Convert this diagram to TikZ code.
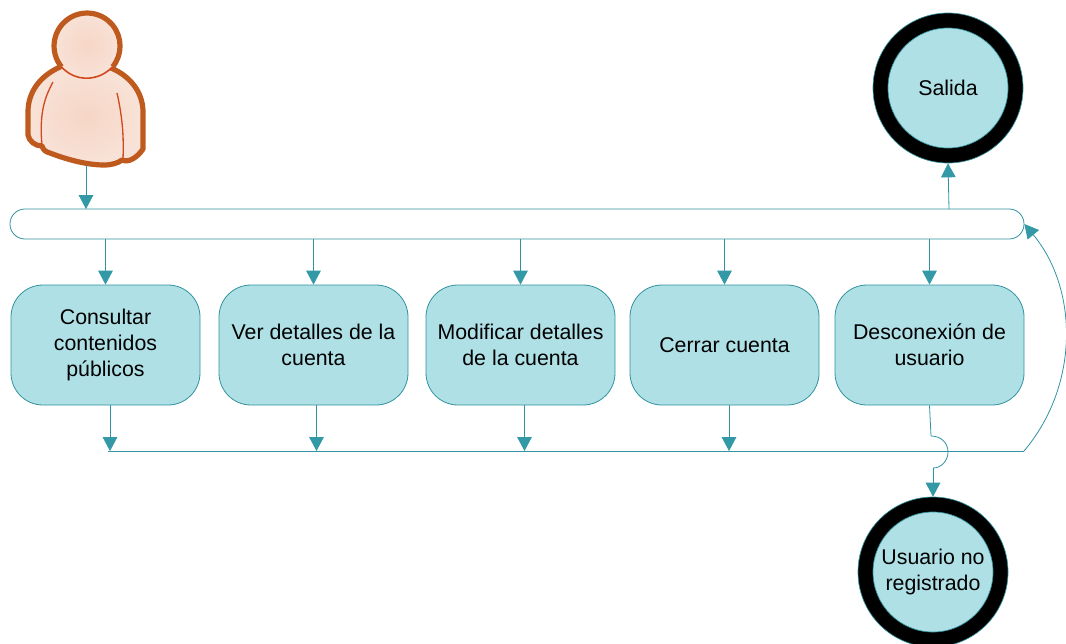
\documentclass[tikz,border=0pt]{standalone}
\usepackage{fontspec}
\setmainfont{Liberation Sans}
\usetikzlibrary{arrows.meta}
\definecolor{tealline}{HTML}{31939F}
\definecolor{tealfill}{HTML}{AEE0E6}
\definecolor{tealhead}{HTML}{3399A6}
\definecolor{skinout}{HTML}{BE5A1E}
\definecolor{skinred}{HTML}{D2491F}
\definecolor{skinin}{HTML}{F6D6C6}
\definecolor{skinedge}{HTML}{F8E2D7}
\tikzset{
  lbl/.style={font=\fontsize{16pt}{19.2pt}\selectfont,align=center,text=black},
  taskbox/.style={lbl,draw=tealline,fill=tealfill,line width=0.6pt,rounded corners=24pt,
    minimum width=141.75pt,minimum height=90pt,inner sep=0pt},
  barbox/.style={draw=tealline,fill=white,line width=0.6pt,rounded corners=11.2pt,
    minimum width=760.5pt,minimum height=22.5pt,inner sep=0pt},
  endout/.style={circle,draw=tealline,fill=black,line width=0.5pt,minimum size=112.5pt,inner sep=0pt},
  endin/.style={lbl,circle,draw=tealline,fill=tealfill,line width=0.5pt,minimum size=90pt,inner sep=0pt},
  conn/.style={draw=tealline,line width=0.6pt},
  arr/.style={conn,-{Triangle[length=10.5pt,width=11pt,color=tealhead]}},
  person/.style={draw=none,inner color=skinin,outer color=skinedge},
}
\begin{document}
\begin{tikzpicture}[x=0.75pt,y=-0.75pt]
\useasboundingbox (0,0) rectangle (1066,643);
% person
\path[person] (60,67) .. controls (40,76) and (28,92) .. (28,112) -- (28,135)
  .. controls (29,141) and (35,146) .. (42,146) .. controls (43,150) and (46,152) .. (50,153)
  .. controls (68,160) and (88,165) .. (104,165) .. controls (112,165) and (118,163) .. (122,160)
  .. controls (128,163) and (137,158) .. (143,149) -- (143,112)
  .. controls (143,92) and (130,76) .. (111,68) -- cycle;
\draw[skinout,line width=3.9pt,line join=round,line cap=round] (60,67) .. controls (40,76) and (28,92) .. (28,112) -- (28,135)
  .. controls (29,141) and (35,146) .. (42,146) .. controls (43,150) and (46,152) .. (50,153)
  .. controls (68,160) and (88,165) .. (104,165) .. controls (112,165) and (118,163) .. (122,160)
  .. controls (128,163) and (137,158) .. (143,149) -- (143,112)
  .. controls (143,92) and (130,76) .. (111,68);
\draw[skinred,line width=1pt] (53,82) .. controls (45,97) and (39,112) .. (42,146);
\draw[skinred,line width=1pt] (117,93) .. controls (122,115) and (124,135) .. (123,159);
\path[person] (87,46) circle[radius=33];
\draw[skinout,line width=3.9pt] (61.4,66.8) arc[start angle=141,end angle=399,radius=33];
\draw[skinred,line width=1.2pt] (61.4,66.8) .. controls (75,82) and (98,82) .. (112.6,66.8);
\coordinate (personfoot) at (86,165);

\node[barbox] (bar) at (517,224) {};
\node[taskbox] (b1) at (105.5,345) {Consultar\\contenidos\\públicos};
\node[taskbox] (b2) at (313.5,345) {Ver detalles de la\\cuenta};
\node[taskbox] (b3) at (520.5,345) {Modificar detalles\\de la cuenta};
\node[taskbox] (b4) at (724.5,345) {Cerrar cuenta};
\node[taskbox] (b5) at (929.5,345) {Desconexión de\\usuario};
\node[endout] (salidao) at (948,88) {};
\node[endin] (salida) at (948,88) {Salida};
\node[endout] (regO) at (933,572) {};
\node[endin] (reg) at (933,572) {Usuario no\\registrado};

\coordinate (barin) at (86,209);
\coordinate (barout) at (949,209);
\coordinate (j0) at (108,451);
\coordinate (j1) at (110,451);
\coordinate (j2) at (316.5,451);
\coordinate (j3) at (524.5,451);
\coordinate (j4) at (729,451);
\coordinate (jend) at (1024,451);
\coordinate (hopa) at (931,436);
\coordinate (hopm) at (948,452);
\coordinate (hopb) at (933,468);

\draw[arr] (personfoot) -- (barin);
\foreach \n in {b1,b2,b3,b4,b5}{\draw[arr] (bar.south -| \n.north) -- (\n.north);}
\draw[arr] (barout) -- (salidao.south);
\draw[arr] (b1.south -| j1) -- (j1);
\draw[arr] (b2.south -| j2) -- (j2);
\draw[arr] (b3.south -| j3) -- (j3);
\draw[arr] (b4.south -| j4) -- (j4);
\draw[conn] (j0) -- (jend);
\draw[arr] (jend) .. controls (1079,386) and (1079,290) .. (bar.east);
\draw[conn] (b5.south) -- (hopa) .. controls (941,436) and (948,443) .. (hopm) .. controls (948,461) and (941,468) .. (hopb);
\draw[arr] (hopb) -- (regO.north);
\end{tikzpicture}
\end{document}
